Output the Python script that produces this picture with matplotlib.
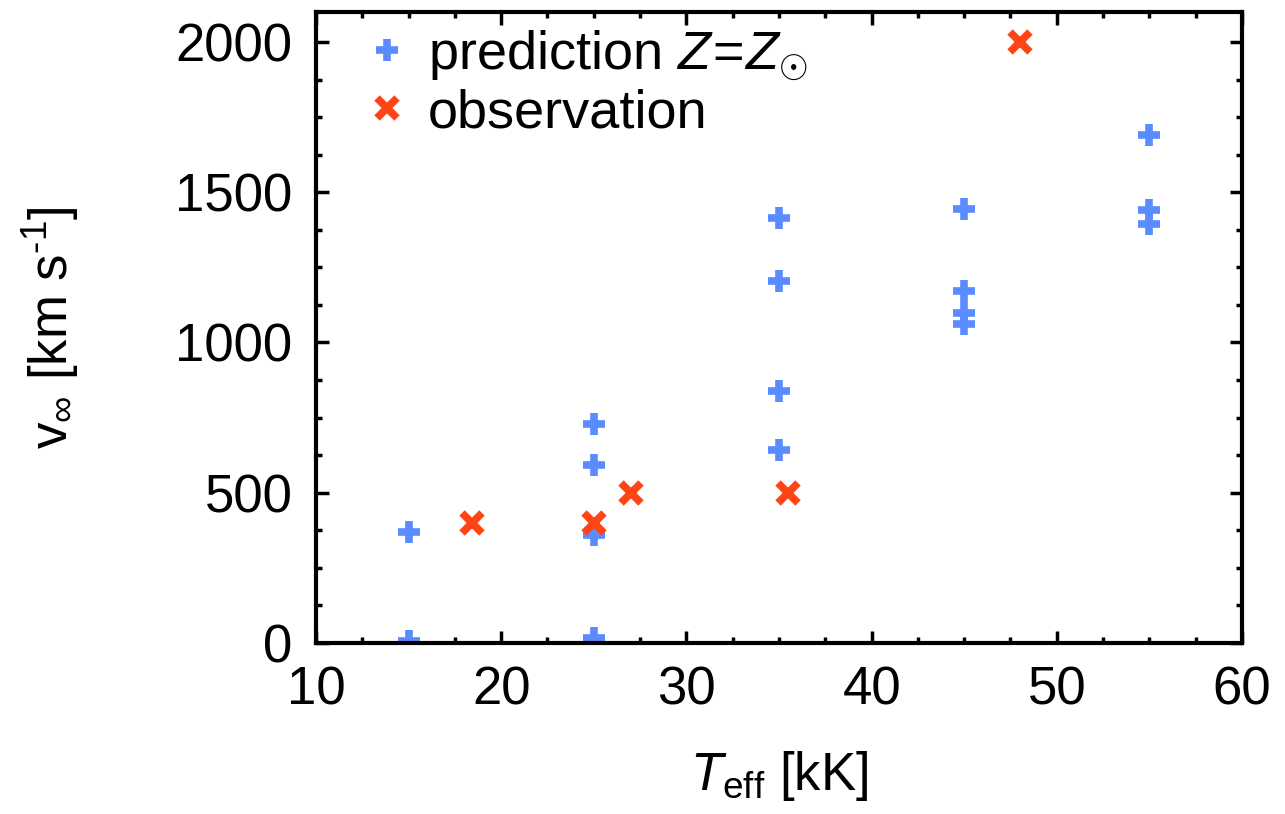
import numpy as np
import matplotlib
matplotlib.use("Agg")
import matplotlib.pyplot as plt
from matplotlib.ticker import MultipleLocator

plt.rcParams["font.family"] = ["Liberation Sans", "DejaVu Sans"]
plt.rcParams["mathtext.fontset"] = "custom"
plt.rcParams["mathtext.rm"] = "Liberation Sans"
plt.rcParams["mathtext.it"] = "Liberation Sans:italic"

# Predicted terminal velocities (solar metallicity)
pred_teff = [15, 15, 25, 25, 25, 25, 35, 35, 35, 35, 45, 45, 45, 45, 55, 55, 55]
pred_vinf = [370, 8, 728, 593, 358, 16, 1415, 1204, 838, 641,
             1445, 1170, 1098, 1062, 1690, 1440, 1395]

# Observed terminal velocities
obs_teff = [18.4, 25.0, 27.0, 35.5, 48.0]
obs_vinf = [400, 400, 500, 500, 2000]

BLUE = "#5b8cff"
RED = "#ff4516"
FS = 38

fig = plt.figure(figsize=(12.85, 8.14), dpi=100)
ax = fig.add_axes([0.2459, 0.2101, 0.7206, 0.7752])

ax.plot(pred_teff, pred_vinf, linestyle="none", marker="+", markersize=16,
        markeredgewidth=5.5, color=BLUE, label=r"prediction $Z\!=\!Z_{\odot}$")
ax.plot(obs_teff, obs_vinf, linestyle="none", marker="x", markersize=15,
        markeredgewidth=5.5, color=RED, label="observation")

ax.set_xlim(10, 60)
ax.set_ylim(0, 2100)
ax.xaxis.set_major_locator(MultipleLocator(10))
ax.xaxis.set_minor_locator(MultipleLocator(2.5))
ax.yaxis.set_major_locator(MultipleLocator(500))
ax.yaxis.set_minor_locator(MultipleLocator(125))

ax.tick_params(which="both", direction="in", top=True, right=True,
               labelsize=FS, width=2.5)
ax.tick_params(which="major", length=9)
ax.tick_params(which="minor", length=4.5)
ax.tick_params(axis="x", which="major", pad=16)
ax.tick_params(axis="y", which="major", pad=17)
for s in ax.spines.values():
    s.set_linewidth(3)

ax.set_xlabel(r"$T_{\rm eff}$ [kK]", fontsize=FS, labelpad=24)
ax.set_ylabel(r"$\mathrm{v}_{\infty}$ [km s$^{\text{-1}}$]", fontsize=FS, labelpad=68)

ax.legend(loc="upper left", bbox_to_anchor=(0.024, 1.025), frameon=False,
          fontsize=FS + 1, handlelength=0.6, handletextpad=0.45, labelspacing=0.1,
          borderaxespad=0.2, numpoints=1)

fig.savefig("out.png", dpi=100)
